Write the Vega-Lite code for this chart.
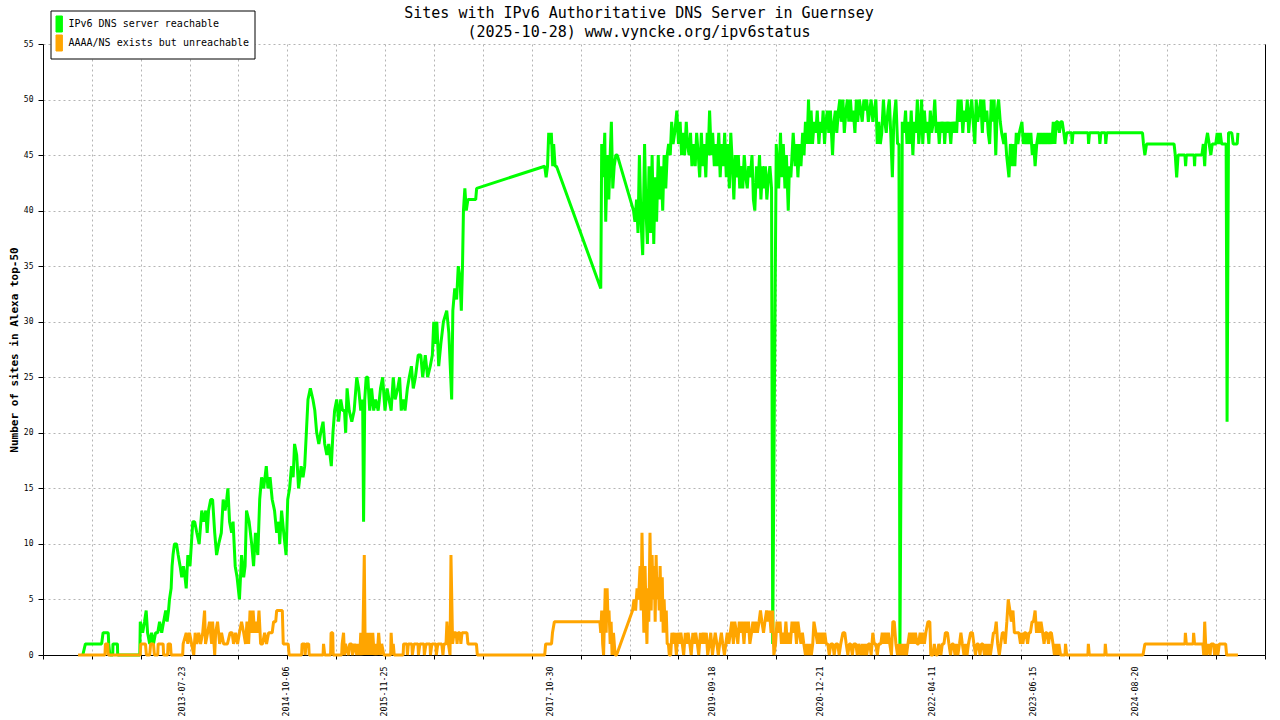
{
  "$schema": "https://vega.github.io/schema/vega-lite/v6.json",
  "width": 1222,
  "height": 611,
  "autosize": {"type": "none"},
  "padding": {"left": 43, "top": 44, "right": 15, "bottom": 65},
  "background": "white",
  "title": {
    "text": ["Sites with IPv6 Authoritative DNS Server in Guernsey", "(2025-10-28) www.vyncke.org/ipv6status"],
    "font": "DejaVu Sans Mono",
    "fontSize": 15,
    "fontWeight": "normal",
    "lineHeight": 19,
    "color": "black",
    "anchor": "middle",
    "dx": -15,
    "offset": -30
  },
  "config": {
    "view": {"stroke": null},
    "axis": {
      "labelFont": "DejaVu Sans Mono",
      "labelFontSize": 8,
      "labelColor": "black",
      "titleFont": "DejaVu Sans Mono",
      "titleColor": "black",
      "domainColor": "black",
      "domainWidth": 1,
      "tickColor": "black",
      "gridColor": "#b4b4b4",
      "gridDash": [2, 3],
      "gridWidth": 1
    }
  },
  "datasets": {
    "green": [
      {"d":"2012-05-25","v":0},{"d":"2012-06-05","v":1},{"d":"2012-08-13","v":1},{"d":"2012-08-19","v":2},{"d":"2012-09-10","v":2},{"d":"2012-09-12","v":1},{"d":"2012-09-17","v":0},{"d":"2012-09-29","v":0},{"d":"2012-09-30","v":1},{"d":"2012-10-19","v":1},{"d":"2012-10-20","v":0},{"d":"2013-01-22","v":0},
      {"d":"2013-01-24","v":3},{"d":"2013-02-03","v":2},{"d":"2013-02-11","v":3},{"d":"2013-02-18","v":4},{"d":"2013-02-24","v":2},{"d":"2013-03-05","v":1},{"d":"2013-03-13","v":2},{"d":"2013-03-21","v":1},{"d":"2013-03-30","v":2},{"d":"2013-04-08","v":2},{"d":"2013-04-16","v":3},{"d":"2013-04-25","v":2},{"d":"2013-05-03","v":3},{"d":"2013-05-12","v":4},{"d":"2013-05-18","v":3},{"d":"2013-05-24","v":4},{"d":"2013-05-28","v":5},{"d":"2013-06-04","v":6},{"d":"2013-06-08","v":8},{"d":"2013-06-12","v":9},{"d":"2013-06-18","v":10},{"d":"2013-06-27","v":10},{"d":"2013-07-04","v":9},{"d":"2013-07-12","v":8},{"d":"2013-07-19","v":7},{"d":"2013-07-26","v":8},{"d":"2013-08-02","v":7},{"d":"2013-08-07","v":6},{"d":"2013-08-14","v":9},{"d":"2013-08-23","v":8},{"d":"2013-09-04","v":12},{"d":"2013-09-12","v":12},{"d":"2013-09-21","v":11},{"d":"2013-10-01","v":10},{"d":"2013-10-12","v":13},{"d":"2013-10-20","v":12},{"d":"2013-10-29","v":13},{"d":"2013-11-04","v":11},{"d":"2013-11-10","v":13},{"d":"2013-11-19","v":14},{"d":"2013-11-27","v":14},{"d":"2013-12-06","v":11},{"d":"2013-12-14","v":9},{"d":"2013-12-23","v":10},
      {"d":"2014-01-03","v":11},{"d":"2014-01-11","v":14},{"d":"2014-01-19","v":13},{"d":"2014-01-26","v":14},{"d":"2014-01-31","v":15},{"d":"2014-02-07","v":12},{"d":"2014-02-16","v":11},{"d":"2014-02-22","v":12},{"d":"2014-03-03","v":8},{"d":"2014-03-11","v":7},{"d":"2014-03-21","v":5},{"d":"2014-03-30","v":9},{"d":"2014-04-08","v":7},{"d":"2014-04-14","v":8},{"d":"2014-04-20","v":13},{"d":"2014-05-01","v":12},{"d":"2014-05-12","v":10},{"d":"2014-05-20","v":8},{"d":"2014-05-28","v":11},{"d":"2014-06-07","v":9},{"d":"2014-06-15","v":14},{"d":"2014-06-23","v":16},{"d":"2014-07-02","v":15},{"d":"2014-07-13","v":17},{"d":"2014-07-20","v":15},{"d":"2014-07-29","v":16},{"d":"2014-08-07","v":14},{"d":"2014-08-17","v":13},{"d":"2014-08-26","v":11},{"d":"2014-09-04","v":12},{"d":"2014-09-08","v":10},{"d":"2014-09-16","v":13},{"d":"2014-09-25","v":11},{"d":"2014-10-05","v":9},{"d":"2014-10-12","v":14},{"d":"2014-10-20","v":15},{"d":"2014-10-28","v":17},{"d":"2014-11-04","v":16},{"d":"2014-11-10","v":19},{"d":"2014-11-19","v":18},{"d":"2014-11-27","v":15},{"d":"2014-12-08","v":17},{"d":"2014-12-16","v":16},{"d":"2014-12-23","v":17},{"d":"2014-12-30","v":20},
      {"d":"2015-01-06","v":23},{"d":"2015-01-16","v":24},{"d":"2015-01-27","v":23},{"d":"2015-02-04","v":22},{"d":"2015-02-12","v":20},{"d":"2015-02-21","v":19},{"d":"2015-03-01","v":20},{"d":"2015-03-11","v":21},{"d":"2015-03-18","v":19},{"d":"2015-03-27","v":18},{"d":"2015-04-04","v":19},{"d":"2015-04-15","v":17},{"d":"2015-04-22","v":20},{"d":"2015-04-29","v":22},{"d":"2015-05-08","v":23},{"d":"2015-05-16","v":21},{"d":"2015-05-25","v":23},{"d":"2015-06-02","v":22},{"d":"2015-06-10","v":22},{"d":"2015-06-15","v":20},{"d":"2015-06-21","v":24},{"d":"2015-06-30","v":22},{"d":"2015-07-11","v":21},{"d":"2015-07-21","v":22},{"d":"2015-08-01","v":25},{"d":"2015-08-09","v":24},{"d":"2015-08-18","v":22},{"d":"2015-08-26","v":23},{"d":"2015-08-30","v":12},{"d":"2015-09-04","v":23},{"d":"2015-09-10","v":25},{"d":"2015-09-17","v":25},{"d":"2015-09-25","v":22},{"d":"2015-10-03","v":24},{"d":"2015-10-12","v":22},{"d":"2015-10-20","v":23},{"d":"2015-10-31","v":22},{"d":"2015-11-10","v":24},{"d":"2015-11-19","v":25},{"d":"2015-11-29","v":22},{"d":"2015-12-08","v":24},{"d":"2015-12-16","v":23},{"d":"2015-12-25","v":22},
      {"d":"2016-01-03","v":25},{"d":"2016-01-11","v":23},{"d":"2016-01-22","v":24},{"d":"2016-01-30","v":25},{"d":"2016-02-06","v":22},{"d":"2016-02-14","v":23},{"d":"2016-02-22","v":22},{"d":"2016-03-03","v":24},{"d":"2016-03-11","v":25},{"d":"2016-03-20","v":26},{"d":"2016-03-28","v":24},{"d":"2016-04-06","v":25},{"d":"2016-04-18","v":27},{"d":"2016-04-29","v":27},{"d":"2016-05-07","v":25},{"d":"2016-05-18","v":27},{"d":"2016-05-28","v":25},{"d":"2016-06-08","v":26},{"d":"2016-06-17","v":27},{"d":"2016-06-23","v":30},{"d":"2016-06-29","v":28},{"d":"2016-07-06","v":30},{"d":"2016-07-14","v":26},{"d":"2016-07-23","v":28},{"d":"2016-08-03","v":30},{"d":"2016-08-17","v":31},{"d":"2016-08-26","v":29},{"d":"2016-09-07","v":23},{"d":"2016-09-12","v":31},{"d":"2016-09-20","v":33},{"d":"2016-09-28","v":32},{"d":"2016-10-05","v":35},{"d":"2016-10-12","v":34},{"d":"2016-10-18","v":31},{"d":"2016-10-23","v":35},{"d":"2016-10-27","v":40},{"d":"2016-11-02","v":42},{"d":"2016-11-08","v":40},{"d":"2016-11-15","v":41},{"d":"2016-12-18","v":41},{"d":"2016-12-22","v":42},
      {"d":"2017-10-07","v":44},{"d":"2017-10-13","v":43},{"d":"2017-10-19","v":44},{"d":"2017-10-24","v":47},{"d":"2017-10-30","v":46},{"d":"2017-11-04","v":47},{"d":"2017-11-10","v":44},{"d":"2017-11-14","v":46},{"d":"2017-11-20","v":44},{"d":"2017-11-26","v":44},
      {"d":"2018-06-02","v":33},{"d":"2018-06-06","v":46},{"d":"2018-06-12","v":43},{"d":"2018-06-19","v":47},{"d":"2018-06-23","v":39},{"d":"2018-06-30","v":45},{"d":"2018-07-06","v":41},{"d":"2018-07-12","v":45},{"d":"2018-07-17","v":48},{"d":"2018-07-23","v":42},{"d":"2018-07-29","v":44},{"d":"2018-08-05","v":45},{"d":"2018-08-11","v":45},{"d":"2018-10-19","v":40},{"d":"2018-10-25","v":39},{"d":"2018-11-01","v":41},{"d":"2018-11-07","v":38},{"d":"2018-11-13","v":45},{"d":"2018-11-20","v":39},{"d":"2018-11-27","v":36},{"d":"2018-12-05","v":46},{"d":"2018-12-11","v":40},{"d":"2018-12-17","v":37},{"d":"2018-12-24","v":44},{"d":"2018-12-31","v":38},
      {"d":"2019-01-06","v":45},{"d":"2019-01-13","v":37},{"d":"2019-01-19","v":43},{"d":"2019-01-25","v":39},{"d":"2019-02-01","v":45},{"d":"2019-02-07","v":41},{"d":"2019-02-13","v":44},{"d":"2019-02-20","v":40},{"d":"2019-02-26","v":45},{"d":"2019-03-05","v":42},{"d":"2019-03-11","v":45},{"d":"2019-03-17","v":46},{"d":"2019-03-24","v":45},{"d":"2019-03-30","v":48},{"d":"2019-04-05","v":46},{"d":"2019-04-12","v":47},{"d":"2019-04-21","v":49},{"d":"2019-04-28","v":46},{"d":"2019-05-05","v":48},{"d":"2019-05-11","v":45},{"d":"2019-05-17","v":47},{"d":"2019-05-24","v":45},{"d":"2019-05-31","v":48},{"d":"2019-06-05","v":46},{"d":"2019-06-12","v":45},{"d":"2019-06-18","v":47},{"d":"2019-06-24","v":44},{"d":"2019-07-02","v":46},{"d":"2019-07-08","v":44},{"d":"2019-07-14","v":47},{"d":"2019-07-21","v":45},{"d":"2019-07-27","v":43},{"d":"2019-08-03","v":47},{"d":"2019-08-09","v":44},{"d":"2019-08-15","v":46},{"d":"2019-08-22","v":43},{"d":"2019-08-28","v":47},{"d":"2019-09-01","v":45},{"d":"2019-09-07","v":49},{"d":"2019-09-14","v":45},{"d":"2019-09-20","v":47},{"d":"2019-09-27","v":44},{"d":"2019-10-03","v":46},{"d":"2019-10-09","v":44},{"d":"2019-10-16","v":47},{"d":"2019-10-22","v":43},{"d":"2019-10-28","v":46},{"d":"2019-11-04","v":44},{"d":"2019-11-10","v":47},{"d":"2019-11-17","v":43},{"d":"2019-11-23","v":46},{"d":"2019-11-30","v":42},{"d":"2019-12-06","v":47},{"d":"2019-12-13","v":44},{"d":"2019-12-19","v":41},{"d":"2019-12-25","v":45},
      {"d":"2020-01-01","v":43},{"d":"2020-01-07","v":45},{"d":"2020-01-13","v":42},{"d":"2020-01-20","v":44},{"d":"2020-01-26","v":42},{"d":"2020-02-01","v":45},{"d":"2020-02-08","v":43},{"d":"2020-02-14","v":42},{"d":"2020-02-20","v":44},{"d":"2020-02-27","v":43},{"d":"2020-03-05","v":45},{"d":"2020-03-11","v":41},{"d":"2020-03-17","v":40},{"d":"2020-03-24","v":44},{"d":"2020-03-30","v":42},{"d":"2020-04-06","v":45},{"d":"2020-04-12","v":41},{"d":"2020-04-19","v":44},{"d":"2020-04-25","v":42},{"d":"2020-05-01","v":44},{"d":"2020-05-07","v":41},{"d":"2020-05-14","v":43},{"d":"2020-05-20","v":44},{"d":"2020-05-27","v":42},{"d":"2020-06-01","v":1},{"d":"2020-06-08","v":23},{"d":"2020-06-16","v":46},{"d":"2020-06-26","v":42},{"d":"2020-07-04","v":47},{"d":"2020-07-10","v":43},{"d":"2020-07-16","v":46},{"d":"2020-07-23","v":42},{"d":"2020-07-29","v":45},{"d":"2020-08-06","v":40},{"d":"2020-08-11","v":44},{"d":"2020-08-17","v":43},{"d":"2020-08-27","v":47},{"d":"2020-09-04","v":44},{"d":"2020-09-10","v":46},{"d":"2020-09-16","v":43},{"d":"2020-09-23","v":46},{"d":"2020-09-29","v":44},{"d":"2020-10-06","v":47},{"d":"2020-10-12","v":45},{"d":"2020-10-18","v":48},{"d":"2020-10-25","v":46},{"d":"2020-10-31","v":50},{"d":"2020-11-05","v":46},{"d":"2020-11-11","v":49},{"d":"2020-11-17","v":46},{"d":"2020-11-24","v":48},{"d":"2020-12-01","v":47},{"d":"2020-12-07","v":49},{"d":"2020-12-14","v":46},{"d":"2020-12-20","v":48},{"d":"2020-12-27","v":47},
      {"d":"2021-01-01","v":49},{"d":"2021-01-07","v":46},{"d":"2021-01-13","v":48},{"d":"2021-01-19","v":49},{"d":"2021-01-25","v":47},{"d":"2021-02-01","v":49},{"d":"2021-02-10","v":45},{"d":"2021-02-16","v":48},{"d":"2021-02-22","v":49},{"d":"2021-02-28","v":47},{"d":"2021-03-07","v":49},{"d":"2021-03-13","v":50},{"d":"2021-03-19","v":48},{"d":"2021-03-26","v":50},{"d":"2021-04-01","v":47},{"d":"2021-04-08","v":49},{"d":"2021-04-14","v":50},{"d":"2021-04-20","v":48},{"d":"2021-04-27","v":50},{"d":"2021-05-03","v":48},{"d":"2021-05-09","v":49},{"d":"2021-05-16","v":47},{"d":"2021-05-22","v":50},{"d":"2021-05-28","v":48},{"d":"2021-06-04","v":50},{"d":"2021-06-10","v":49},{"d":"2021-06-16","v":48},{"d":"2021-06-23","v":50},{"d":"2021-06-29","v":49},{"d":"2021-07-05","v":50},{"d":"2021-07-12","v":48},{"d":"2021-07-18","v":49},{"d":"2021-07-24","v":50},{"d":"2021-07-31","v":48},{"d":"2021-08-06","v":49},{"d":"2021-08-13","v":50},{"d":"2021-08-19","v":46},{"d":"2021-08-25","v":48},{"d":"2021-09-01","v":46},{"d":"2021-09-07","v":47},{"d":"2021-09-14","v":50},{"d":"2021-09-20","v":48},{"d":"2021-09-26","v":47},{"d":"2021-10-03","v":49},{"d":"2021-10-09","v":50},{"d":"2021-10-15","v":47},{"d":"2021-10-22","v":43},{"d":"2021-10-28","v":48},{"d":"2021-11-06","v":50},{"d":"2021-11-13","v":46},{"d":"2021-11-19","v":46},{"d":"2021-11-23","v":0},{"d":"2021-11-30","v":25},{"d":"2021-12-03","v":48},{"d":"2021-12-10","v":47},{"d":"2021-12-17","v":49},{"d":"2021-12-23","v":46},{"d":"2021-12-29","v":48},
      {"d":"2022-01-04","v":46},{"d":"2022-01-10","v":49},{"d":"2022-01-17","v":45},{"d":"2022-01-23","v":48},{"d":"2022-01-30","v":47},{"d":"2022-02-05","v":50},{"d":"2022-02-11","v":46},{"d":"2022-02-18","v":48},{"d":"2022-02-23","v":50},{"d":"2022-02-28","v":46},{"d":"2022-03-07","v":49},{"d":"2022-03-13","v":47},{"d":"2022-03-19","v":48},{"d":"2022-03-26","v":46},{"d":"2022-04-01","v":49},{"d":"2022-04-07","v":47},{"d":"2022-04-14","v":48},{"d":"2022-04-20","v":50},{"d":"2022-04-26","v":47},{"d":"2022-05-03","v":48},{"d":"2022-05-09","v":46},{"d":"2022-05-15","v":48},{"d":"2022-05-22","v":47},{"d":"2022-05-28","v":48},{"d":"2022-06-01","v":46},{"d":"2022-06-07","v":48},{"d":"2022-06-14","v":47},{"d":"2022-06-20","v":48},{"d":"2022-06-27","v":46},{"d":"2022-07-03","v":48},{"d":"2022-07-09","v":47},{"d":"2022-07-16","v":48},{"d":"2022-07-22","v":47},{"d":"2022-07-28","v":50},{"d":"2022-08-04","v":48},{"d":"2022-08-10","v":50},{"d":"2022-08-17","v":47},{"d":"2022-08-23","v":49},{"d":"2022-08-29","v":48},{"d":"2022-09-05","v":50},{"d":"2022-09-11","v":47},{"d":"2022-09-18","v":49},{"d":"2022-09-24","v":50},{"d":"2022-09-30","v":48},{"d":"2022-10-07","v":46},{"d":"2022-10-13","v":50},{"d":"2022-10-19","v":48},{"d":"2022-10-26","v":49},{"d":"2022-11-01","v":50},{"d":"2022-11-08","v":47},{"d":"2022-11-14","v":50},{"d":"2022-11-20","v":48},{"d":"2022-11-27","v":49},{"d":"2022-12-03","v":47},{"d":"2022-12-09","v":46},{"d":"2022-12-16","v":50},{"d":"2022-12-22","v":48},{"d":"2022-12-28","v":50},
      {"d":"2023-01-04","v":45},{"d":"2023-01-10","v":49},{"d":"2023-01-16","v":50},{"d":"2023-01-23","v":48},{"d":"2023-01-29","v":47},{"d":"2023-02-07","v":46},{"d":"2023-02-13","v":47},{"d":"2023-02-19","v":45},{"d":"2023-03-01","v":43},{"d":"2023-03-07","v":46},{"d":"2023-03-14","v":44},{"d":"2023-03-20","v":46},{"d":"2023-03-26","v":44},{"d":"2023-04-01","v":47},{"d":"2023-04-08","v":46},{"d":"2023-04-14","v":47},{"d":"2023-04-25","v":48},{"d":"2023-05-01","v":46},{"d":"2023-05-07","v":47},{"d":"2023-05-14","v":46},{"d":"2023-05-20","v":47},{"d":"2023-05-26","v":46},{"d":"2023-06-02","v":47},{"d":"2023-06-08","v":45},{"d":"2023-06-14","v":46},{"d":"2023-06-20","v":44},{"d":"2023-06-27","v":46},{"d":"2023-07-04","v":47},{"d":"2023-07-10","v":46},{"d":"2023-07-16","v":47},{"d":"2023-07-23","v":46},{"d":"2023-07-29","v":47},{"d":"2023-08-04","v":46},{"d":"2023-08-11","v":47},{"d":"2023-08-17","v":46},{"d":"2023-08-24","v":47},{"d":"2023-08-30","v":46},{"d":"2023-09-05","v":48},{"d":"2023-09-12","v":46},{"d":"2023-09-18","v":48},{"d":"2023-09-24","v":48},{"d":"2023-10-01","v":47},{"d":"2023-10-07","v":48},{"d":"2023-10-13","v":48},{"d":"2023-10-20","v":47},{"d":"2023-10-26","v":46},{"d":"2023-11-01","v":47},{"d":"2023-11-22","v":47},{"d":"2023-11-24","v":46},{"d":"2023-11-28","v":47},
      {"d":"2024-01-31","v":47},{"d":"2024-02-02","v":46},{"d":"2024-02-06","v":47},{"d":"2024-03-18","v":47},{"d":"2024-03-21","v":46},{"d":"2024-03-25","v":47},{"d":"2024-04-13","v":47},{"d":"2024-04-15","v":46},{"d":"2024-04-19","v":47},{"d":"2024-09-18","v":47},{"d":"2024-09-22","v":46},{"d":"2024-09-28","v":45},{"d":"2024-10-05","v":46},
      {"d":"2025-01-30","v":46},{"d":"2025-02-04","v":45},{"d":"2025-02-10","v":43},{"d":"2025-02-16","v":45},{"d":"2025-03-17","v":45},{"d":"2025-03-20","v":44},{"d":"2025-03-23","v":45},{"d":"2025-04-25","v":45},{"d":"2025-04-27","v":44},{"d":"2025-04-29","v":45},{"d":"2025-05-28","v":45},{"d":"2025-06-03","v":46},{"d":"2025-06-09","v":44},{"d":"2025-06-13","v":46},{"d":"2025-06-21","v":47},{"d":"2025-06-28","v":46},{"d":"2025-07-05","v":45},{"d":"2025-07-11","v":46},{"d":"2025-07-26","v":46},{"d":"2025-08-01","v":47},{"d":"2025-08-08","v":46},{"d":"2025-08-14","v":47},{"d":"2025-08-20","v":46},{"d":"2025-09-08","v":46},{"d":"2025-09-10","v":34},{"d":"2025-09-12","v":21},{"d":"2025-09-18","v":47},{"d":"2025-10-02","v":47},{"d":"2025-10-08","v":46},{"d":"2025-10-25","v":46},{"d":"2025-10-28","v":47}
    ],
    "orange": [
      {"d":"2012-05-05","v":0},{"d":"2012-08-27","v":0},{"d":"2012-08-29","v":1},{"d":"2012-09-08","v":1},{"d":"2012-09-10","v":0},
      {"d":"2013-01-24","v":0},{"d":"2013-01-26","v":1},{"d":"2013-02-15","v":1},{"d":"2013-02-19","v":0},{"d":"2013-03-05","v":0},{"d":"2013-03-09","v":1},{"d":"2013-03-21","v":1},{"d":"2013-03-25","v":0},{"d":"2013-04-08","v":0},{"d":"2013-04-10","v":1},{"d":"2013-05-01","v":1},{"d":"2013-05-03","v":0},{"d":"2013-05-20","v":0},{"d":"2013-05-22","v":1},{"d":"2013-06-01","v":1},{"d":"2013-06-04","v":0},{"d":"2013-07-23","v":0},{"d":"2013-07-25","v":1},{"d":"2013-08-07","v":2},{"d":"2013-08-14","v":1},{"d":"2013-08-21","v":2},{"d":"2013-08-30","v":1},{"d":"2013-09-08","v":0},{"d":"2013-09-14","v":2},{"d":"2013-09-21","v":1},{"d":"2013-09-29","v":2},{"d":"2013-10-07","v":1},{"d":"2013-10-16","v":2},{"d":"2013-10-24","v":4},{"d":"2013-10-28","v":1},{"d":"2013-11-06","v":2},{"d":"2013-11-14","v":3},{"d":"2013-11-23","v":1},{"d":"2013-11-27","v":3},{"d":"2013-12-06","v":0},{"d":"2013-12-10","v":2},{"d":"2013-12-18","v":3},{"d":"2013-12-27","v":1},
      {"d":"2014-01-04","v":2},{"d":"2014-01-13","v":1},{"d":"2014-01-21","v":1},{"d":"2014-01-29","v":1},{"d":"2014-02-09","v":2},{"d":"2014-02-18","v":2},{"d":"2014-02-24","v":1},{"d":"2014-03-05","v":2},{"d":"2014-03-13","v":1},{"d":"2014-03-21","v":2},{"d":"2014-03-30","v":3},{"d":"2014-04-08","v":2},{"d":"2014-04-16","v":1},{"d":"2014-04-22","v":3},{"d":"2014-04-29","v":1},{"d":"2014-05-05","v":4},{"d":"2014-05-11","v":2},{"d":"2014-05-18","v":4},{"d":"2014-05-24","v":2},{"d":"2014-05-31","v":3},{"d":"2014-06-06","v":2},{"d":"2014-06-12","v":4},{"d":"2014-06-19","v":1},{"d":"2014-06-27","v":1},{"d":"2014-07-06","v":2},{"d":"2014-07-14","v":1},{"d":"2014-07-23","v":2},{"d":"2014-07-31","v":2},{"d":"2014-08-07","v":2},{"d":"2014-08-13","v":3},{"d":"2014-08-22","v":3},{"d":"2014-08-26","v":4},{"d":"2014-09-19","v":4},{"d":"2014-09-23","v":1},{"d":"2014-10-08","v":1},{"d":"2014-10-14","v":1},{"d":"2014-10-18","v":0},{"d":"2014-12-10","v":0},{"d":"2014-12-12","v":1},{"d":"2014-12-23","v":1},{"d":"2014-12-25","v":0},{"d":"2014-12-29","v":1},
      {"d":"2015-01-09","v":1},{"d":"2015-01-11","v":0},{"d":"2015-03-11","v":0},{"d":"2015-03-13","v":1},{"d":"2015-03-18","v":0},{"d":"2015-04-12","v":0},{"d":"2015-04-14","v":2},{"d":"2015-04-21","v":2},{"d":"2015-04-23","v":0},{"d":"2015-05-29","v":0},{"d":"2015-05-31","v":1},{"d":"2015-06-06","v":2},{"d":"2015-06-10","v":0},{"d":"2015-06-14","v":1},{"d":"2015-06-27","v":0},{"d":"2015-07-02","v":1},{"d":"2015-07-10","v":1},{"d":"2015-07-14","v":0},{"d":"2015-07-23","v":1},{"d":"2015-08-01","v":0},{"d":"2015-08-05","v":1},{"d":"2015-08-14","v":0},{"d":"2015-08-18","v":2},{"d":"2015-08-26","v":0},{"d":"2015-09-02","v":9},{"d":"2015-09-06","v":0},{"d":"2015-09-12","v":2},{"d":"2015-09-19","v":0},{"d":"2015-09-25","v":2},{"d":"2015-10-01","v":0},{"d":"2015-10-08","v":2},{"d":"2015-10-14","v":0},{"d":"2015-10-20","v":1},{"d":"2015-10-27","v":0},{"d":"2015-11-02","v":2},{"d":"2015-11-09","v":0},{"d":"2015-11-15","v":1},{"d":"2015-11-24","v":0},{"d":"2015-12-23","v":0},{"d":"2015-12-25","v":2},{"d":"2015-12-30","v":0},
      {"d":"2016-01-03","v":1},{"d":"2016-01-07","v":0},{"d":"2016-02-14","v":0},{"d":"2016-02-16","v":1},{"d":"2016-03-01","v":1},{"d":"2016-03-03","v":0},{"d":"2016-03-07","v":1},{"d":"2016-03-22","v":1},{"d":"2016-03-24","v":0},{"d":"2016-03-31","v":1},{"d":"2016-04-17","v":1},{"d":"2016-04-19","v":0},{"d":"2016-04-25","v":1},{"d":"2016-05-12","v":1},{"d":"2016-05-14","v":0},{"d":"2016-05-21","v":1},{"d":"2016-06-07","v":1},{"d":"2016-06-09","v":0},{"d":"2016-06-15","v":1},{"d":"2016-07-02","v":1},{"d":"2016-07-04","v":0},{"d":"2016-07-10","v":1},{"d":"2016-07-27","v":1},{"d":"2016-08-01","v":0},{"d":"2016-08-05","v":1},{"d":"2016-08-14","v":1},{"d":"2016-08-18","v":3},{"d":"2016-08-24","v":1},{"d":"2016-08-31","v":0},{"d":"2016-09-04","v":9},{"d":"2016-09-11","v":1},{"d":"2016-09-17","v":2},{"d":"2016-09-26","v":2},{"d":"2016-09-30","v":1},{"d":"2016-10-04","v":2},{"d":"2016-10-12","v":2},{"d":"2016-10-16","v":1},{"d":"2016-10-21","v":2},{"d":"2016-11-11","v":2},{"d":"2016-11-15","v":1},{"d":"2016-12-21","v":1},{"d":"2016-12-25","v":0},
      {"d":"2017-10-07","v":0},{"d":"2017-10-11","v":1},{"d":"2017-11-05","v":1},{"d":"2017-11-09","v":2},{"d":"2017-11-17","v":3},
      {"d":"2018-05-29","v":3},{"d":"2018-06-02","v":2},{"d":"2018-06-06","v":4},{"d":"2018-06-10","v":1},{"d":"2018-06-14","v":0},{"d":"2018-06-21","v":6},{"d":"2018-06-25","v":2},{"d":"2018-06-29","v":6},{"d":"2018-07-03","v":3},{"d":"2018-07-07","v":4},{"d":"2018-07-12","v":1},{"d":"2018-07-16","v":3},{"d":"2018-07-20","v":0},{"d":"2018-07-26","v":2},{"d":"2018-08-02","v":0},{"d":"2018-08-08","v":0},{"d":"2018-10-15","v":4},{"d":"2018-10-21","v":5},{"d":"2018-10-28","v":4},{"d":"2018-11-03","v":6},{"d":"2018-11-09","v":5},{"d":"2018-11-16","v":8},{"d":"2018-11-20","v":4},{"d":"2018-11-24","v":11},{"d":"2018-11-28","v":6},{"d":"2018-12-02","v":2},{"d":"2018-12-07","v":8},{"d":"2018-12-11","v":4},{"d":"2018-12-15","v":1},{"d":"2018-12-19","v":6},{"d":"2018-12-23","v":3},{"d":"2018-12-28","v":11},
      {"d":"2019-01-02","v":4},{"d":"2019-01-06","v":9},{"d":"2019-01-10","v":5},{"d":"2019-01-15","v":8},{"d":"2019-01-19","v":3},{"d":"2019-01-23","v":9},{"d":"2019-01-27","v":5},{"d":"2019-02-01","v":7},{"d":"2019-02-05","v":4},{"d":"2019-02-09","v":8},{"d":"2019-02-14","v":3},{"d":"2019-02-18","v":7},{"d":"2019-02-22","v":2},{"d":"2019-02-26","v":5},{"d":"2019-03-03","v":2},{"d":"2019-03-07","v":4},{"d":"2019-03-11","v":1},{"d":"2019-03-16","v":1},{"d":"2019-03-20","v":0},{"d":"2019-03-26","v":0},{"d":"2019-03-31","v":2},{"d":"2019-04-06","v":1},{"d":"2019-04-12","v":2},{"d":"2019-04-19","v":0},{"d":"2019-04-25","v":2},{"d":"2019-05-01","v":1},{"d":"2019-05-08","v":2},{"d":"2019-05-14","v":1},{"d":"2019-05-20","v":0},{"d":"2019-05-27","v":2},{"d":"2019-06-02","v":1},{"d":"2019-06-08","v":2},{"d":"2019-06-15","v":1},{"d":"2019-06-21","v":0},{"d":"2019-06-28","v":2},{"d":"2019-07-04","v":1},{"d":"2019-07-10","v":2},{"d":"2019-07-17","v":1},{"d":"2019-07-23","v":0},{"d":"2019-07-30","v":2},{"d":"2019-08-05","v":1},{"d":"2019-08-11","v":2},{"d":"2019-08-18","v":1},{"d":"2019-08-24","v":2},{"d":"2019-08-30","v":0},{"d":"2019-09-06","v":1},{"d":"2019-09-12","v":2},{"d":"2019-09-19","v":0},{"d":"2019-09-25","v":1},{"d":"2019-10-01","v":2},{"d":"2019-10-08","v":1},{"d":"2019-10-14","v":0},{"d":"2019-10-20","v":1},{"d":"2019-10-27","v":2},{"d":"2019-11-02","v":1},{"d":"2019-11-09","v":0},{"d":"2019-11-15","v":1},{"d":"2019-11-21","v":2},{"d":"2019-11-28","v":1},{"d":"2019-12-04","v":2},{"d":"2019-12-10","v":3},{"d":"2019-12-17","v":1},{"d":"2019-12-23","v":3},{"d":"2019-12-30","v":2},
      {"d":"2020-01-05","v":1},{"d":"2020-01-11","v":3},{"d":"2020-01-18","v":2},{"d":"2020-01-24","v":3},{"d":"2020-01-31","v":1},{"d":"2020-02-06","v":3},{"d":"2020-02-12","v":2},{"d":"2020-02-19","v":3},{"d":"2020-02-25","v":1},{"d":"2020-03-03","v":2},{"d":"2020-03-09","v":3},{"d":"2020-03-16","v":2},{"d":"2020-03-22","v":3},{"d":"2020-03-28","v":2},{"d":"2020-04-04","v":3},{"d":"2020-04-10","v":4},{"d":"2020-04-16","v":3},{"d":"2020-04-23","v":2},{"d":"2020-04-29","v":3},{"d":"2020-05-06","v":4},{"d":"2020-05-12","v":3},{"d":"2020-05-18","v":4},{"d":"2020-05-25","v":2},{"d":"2020-05-31","v":4},{"d":"2020-06-06","v":0},{"d":"2020-06-13","v":1},{"d":"2020-06-19","v":3},{"d":"2020-06-25","v":2},{"d":"2020-07-02","v":3},{"d":"2020-07-08","v":1},{"d":"2020-07-14","v":2},{"d":"2020-07-21","v":1},{"d":"2020-07-27","v":3},{"d":"2020-08-02","v":1},{"d":"2020-08-09","v":2},{"d":"2020-08-15","v":1},{"d":"2020-08-22","v":3},{"d":"2020-08-28","v":2},{"d":"2020-09-03","v":3},{"d":"2020-09-10","v":1},{"d":"2020-09-16","v":3},{"d":"2020-09-22","v":2},{"d":"2020-09-29","v":1},{"d":"2020-10-05","v":2},{"d":"2020-10-11","v":1},{"d":"2020-10-18","v":0},{"d":"2020-10-24","v":1},{"d":"2020-10-31","v":0},{"d":"2020-11-06","v":1},{"d":"2020-11-12","v":0},{"d":"2020-11-18","v":1},{"d":"2020-11-23","v":3},{"d":"2020-12-01","v":2},{"d":"2020-12-08","v":1},{"d":"2020-12-14","v":2},{"d":"2020-12-20","v":1},{"d":"2020-12-27","v":2},
      {"d":"2021-01-02","v":1},{"d":"2021-01-08","v":2},{"d":"2021-01-14","v":1},{"d":"2021-01-21","v":1},{"d":"2021-01-27","v":0},{"d":"2021-02-03","v":1},{"d":"2021-02-11","v":1},{"d":"2021-02-17","v":0},{"d":"2021-02-24","v":1},{"d":"2021-03-04","v":1},{"d":"2021-03-10","v":0},{"d":"2021-03-17","v":1},{"d":"2021-03-26","v":2},{"d":"2021-04-03","v":2},{"d":"2021-04-09","v":1},{"d":"2021-04-16","v":0},{"d":"2021-04-22","v":1},{"d":"2021-04-28","v":1},{"d":"2021-05-05","v":0},{"d":"2021-05-11","v":1},{"d":"2021-05-20","v":1},{"d":"2021-05-26","v":0},{"d":"2021-06-01","v":1},{"d":"2021-06-10","v":0},{"d":"2021-06-16","v":1},{"d":"2021-06-23","v":0},{"d":"2021-06-29","v":1},{"d":"2021-07-05","v":0},{"d":"2021-07-12","v":1},{"d":"2021-07-18","v":1},{"d":"2021-07-24","v":0},{"d":"2021-07-31","v":2},{"d":"2021-08-06","v":1},{"d":"2021-08-13","v":1},{"d":"2021-08-19","v":0},{"d":"2021-08-25","v":1},{"d":"2021-09-03","v":1},{"d":"2021-09-09","v":2},{"d":"2021-09-16","v":1},{"d":"2021-09-22","v":2},{"d":"2021-09-28","v":1},{"d":"2021-10-05","v":2},{"d":"2021-10-11","v":1},{"d":"2021-10-18","v":0},{"d":"2021-10-24","v":3},{"d":"2021-10-30","v":3},{"d":"2021-11-06","v":1},{"d":"2021-11-13","v":0},{"d":"2021-11-19","v":1},{"d":"2021-11-26","v":0},{"d":"2021-12-02","v":1},{"d":"2021-12-08","v":0},{"d":"2021-12-15","v":1},{"d":"2021-12-21","v":0},{"d":"2021-12-27","v":1},
      {"d":"2022-01-03","v":2},{"d":"2022-01-09","v":1},{"d":"2022-01-16","v":2},{"d":"2022-01-22","v":1},{"d":"2022-01-28","v":2},{"d":"2022-02-04","v":1},{"d":"2022-02-10","v":1},{"d":"2022-02-17","v":2},{"d":"2022-02-23","v":1},{"d":"2022-03-01","v":2},{"d":"2022-03-07","v":1},{"d":"2022-03-13","v":2},{"d":"2022-03-22","v":3},{"d":"2022-03-30","v":3},{"d":"2022-04-03","v":0},{"d":"2022-04-12","v":0},{"d":"2022-04-18","v":1},{"d":"2022-04-25","v":0},{"d":"2022-05-01","v":0},{"d":"2022-05-07","v":1},{"d":"2022-05-16","v":0},{"d":"2022-05-22","v":1},{"d":"2022-05-29","v":1},{"d":"2022-06-04","v":2},{"d":"2022-06-13","v":2},{"d":"2022-06-19","v":1},{"d":"2022-06-26","v":0},{"d":"2022-07-02","v":1},{"d":"2022-07-08","v":1},{"d":"2022-07-15","v":0},{"d":"2022-07-21","v":1},{"d":"2022-07-27","v":0},{"d":"2022-08-03","v":1},{"d":"2022-08-09","v":2},{"d":"2022-08-15","v":1},{"d":"2022-08-22","v":0},{"d":"2022-08-28","v":1},{"d":"2022-09-04","v":0},{"d":"2022-09-10","v":1},{"d":"2022-09-19","v":2},{"d":"2022-09-27","v":2},{"d":"2022-10-03","v":1},{"d":"2022-10-10","v":0},{"d":"2022-10-16","v":1},{"d":"2022-10-22","v":1},{"d":"2022-10-29","v":0},{"d":"2022-11-04","v":1},{"d":"2022-11-10","v":1},{"d":"2022-11-17","v":0},{"d":"2022-11-23","v":1},{"d":"2022-11-29","v":0},{"d":"2022-12-06","v":1},{"d":"2022-12-12","v":0},{"d":"2022-12-19","v":1},{"d":"2022-12-25","v":2},{"d":"2022-12-31","v":2},
      {"d":"2023-01-06","v":3},{"d":"2023-01-12","v":1},{"d":"2023-01-19","v":0},{"d":"2023-01-25","v":1},{"d":"2023-02-01","v":2},{"d":"2023-02-07","v":2},{"d":"2023-02-13","v":1},{"d":"2023-02-20","v":3},{"d":"2023-02-26","v":5},{"d":"2023-03-05","v":4},{"d":"2023-03-11","v":3},{"d":"2023-03-18","v":4},{"d":"2023-03-24","v":2},{"d":"2023-03-30","v":2},{"d":"2023-04-06","v":2},{"d":"2023-04-12","v":2},{"d":"2023-04-19","v":1},{"d":"2023-04-23","v":2},{"d":"2023-04-29","v":1},{"d":"2023-05-06","v":2},{"d":"2023-05-12","v":2},{"d":"2023-05-19","v":1},{"d":"2023-05-25","v":2},{"d":"2023-05-31","v":2},{"d":"2023-06-07","v":3},{"d":"2023-06-13","v":3},{"d":"2023-06-20","v":4},{"d":"2023-06-26","v":2},{"d":"2023-07-02","v":3},{"d":"2023-07-09","v":2},{"d":"2023-07-15","v":3},{"d":"2023-07-22","v":2},{"d":"2023-07-28","v":1},{"d":"2023-08-03","v":2},{"d":"2023-08-09","v":2},{"d":"2023-08-16","v":1},{"d":"2023-08-22","v":2},{"d":"2023-08-28","v":2},{"d":"2023-09-04","v":1},{"d":"2023-09-10","v":0},{"d":"2023-09-17","v":1},{"d":"2023-09-23","v":0},{"d":"2023-09-29","v":1},{"d":"2023-10-06","v":0},{"d":"2023-10-25","v":0},{"d":"2023-10-27","v":1},{"d":"2023-11-01","v":0},
      {"d":"2024-01-30","v":0},{"d":"2024-02-01","v":1},{"d":"2024-02-05","v":0},{"d":"2024-04-11","v":0},{"d":"2024-04-13","v":1},{"d":"2024-04-17","v":0},{"d":"2024-09-20","v":0},{"d":"2024-09-28","v":1},
      {"d":"2025-03-17","v":1},{"d":"2025-03-19","v":2},{"d":"2025-03-23","v":1},{"d":"2025-04-21","v":1},{"d":"2025-04-23","v":2},{"d":"2025-04-27","v":1},{"d":"2025-06-01","v":1},{"d":"2025-06-05","v":0},{"d":"2025-06-09","v":3},{"d":"2025-06-13","v":1},{"d":"2025-06-17","v":0},{"d":"2025-06-24","v":1},{"d":"2025-07-02","v":0},{"d":"2025-07-06","v":1},{"d":"2025-07-17","v":1},{"d":"2025-07-21","v":0},{"d":"2025-07-28","v":1},{"d":"2025-08-04","v":0},{"d":"2025-08-10","v":1},{"d":"2025-09-06","v":1},{"d":"2025-09-10","v":0},{"d":"2025-10-28","v":0}
    ]
  },
  "layer": [
    {
      "data": {"name": "green"},
      "mark": {"type": "line", "strokeWidth": 3, "strokeJoin": "bevel"},
      "encoding": {
        "x": {
          "field": "d",
          "type": "temporal",
          "scale": {
            "type": "utc",
            "domain": [
              {"year": 2011, "month": 12, "date": 8, "utc": true},
              {"year": 2026, "month": 2, "date": 20, "utc": true}
            ]
          },
          "axis": {
            "orient": "bottom",
            "title": null,
            "labels": false,
            "grid": true,
            "tickSize": 4,
            "values": [
              {"year": 2011, "month": 12, "date": 8, "utc": true},
              {"year": 2012, "month": 7, "date": 3, "utc": true},
              {"year": 2013, "month": 1, "date": 25, "utc": true},
              {"year": 2013, "month": 8, "date": 21, "utc": true},
              {"year": 2014, "month": 3, "date": 16, "utc": true},
              {"year": 2014, "month": 10, "date": 10, "utc": true},
              {"year": 2015, "month": 5, "date": 6, "utc": true},
              {"year": 2015, "month": 11, "date": 29, "utc": true},
              {"year": 2016, "month": 6, "date": 25, "utc": true},
              {"year": 2017, "month": 1, "date": 17, "utc": true},
              {"year": 2017, "month": 8, "date": 13, "utc": true},
              {"year": 2018, "month": 3, "date": 9, "utc": true},
              {"year": 2018, "month": 10, "date": 2, "utc": true},
              {"year": 2019, "month": 4, "date": 28, "utc": true},
              {"year": 2019, "month": 11, "date": 21, "utc": true},
              {"year": 2020, "month": 6, "date": 17, "utc": true},
              {"year": 2021, "month": 1, "date": 10, "utc": true},
              {"year": 2021, "month": 8, "date": 5, "utc": true},
              {"year": 2022, "month": 2, "date": 28, "utc": true},
              {"year": 2022, "month": 9, "date": 24, "utc": true},
              {"year": 2023, "month": 4, "date": 20, "utc": true},
              {"year": 2023, "month": 11, "date": 13, "utc": true},
              {"year": 2024, "month": 6, "date": 9, "utc": true},
              {"year": 2025, "month": 1, "date": 2, "utc": true},
              {"year": 2025, "month": 7, "date": 28, "utc": true},
              {"year": 2026, "month": 2, "date": 20, "utc": true}
            ]
          }
        },
        "y": {
          "field": "v",
          "type": "quantitative",
          "scale": {"domain": [0, 55], "nice": false, "zero": true},
          "axis": {
            "orient": "left",
            "title": "Number of sites in Alexa top-50",
            "titleFontSize": 11,
            "titleFontWeight": "bold",
            "titlePadding": 4,
            "values": [0, 5, 10, 15, 20, 25, 30, 35, 40, 45, 50, 55],
            "tickSize": 5,
            "labelPadding": 5,
            "grid": true
          }
        },
        "color": {
          "datum": "IPv6 DNS server reachable",
          "type": "nominal",
          "scale": {
            "domain": ["IPv6 DNS server reachable", "AAAA/NS exists but unreachable"],
            "range": ["#00ff00", "#ffa500"]
          },
          "legend": {
            "title": null,
            "orient": "none",
            "legendX": 7.5,
            "legendY": -33.5,
            "padding": 5,
            "strokeColor": "black",
            "fillColor": "white",
            "symbolType": "M-1,-1H-0.2V1H-1Z",
            "symbolSize": 256,
            "symbolStrokeWidth": 1,
            "rowPadding": -6,
            "labelFont": "DejaVu Sans Mono",
            "labelFontSize": 10,
            "labelColor": "black",
            "labelOffset": -4,
            "labelLimit": 400,
            "encode": {
              "symbols": {
                "update": {
                  "fill": {"scale": "color", "field": "value"},
                  "stroke": {"value": "black"},
                  "strokeWidth": {"value": 1},
                  "opacity": {"value": 1},
                  "fillOpacity": {"value": 1}
                }
              }
            }
          }
        }
      }
    },
    {
      "data": {"name": "orange"},
      "mark": {"type": "line", "strokeWidth": 3, "strokeJoin": "bevel"},
      "encoding": {
        "x": {
          "field": "d",
          "type": "temporal",
          "axis": {
            "orient": "bottom",
            "title": null,
            "domain": false,
            "ticks": false,
            "tickSize": 0,
            "grid": false,
            "labelAngle": -90,
            "labelPadding": 11,
            "labelFontSize": 8.3,
            "labelOverlap": false,
            "labelFlush": false,
            "labelExpr": "utcFormat(datum.value, '%Y-%m-%d')",
            "values": [
              {"year": 2013, "month": 7, "date": 23, "utc": true},
              {"year": 2014, "month": 10, "date": 6, "utc": true},
              {"year": 2015, "month": 11, "date": 25, "utc": true},
              {"year": 2017, "month": 10, "date": 30, "utc": true},
              {"year": 2019, "month": 9, "date": 18, "utc": true},
              {"year": 2020, "month": 12, "date": 21, "utc": true},
              {"year": 2022, "month": 4, "date": 11, "utc": true},
              {"year": 2023, "month": 6, "date": 15, "utc": true},
              {"year": 2024, "month": 8, "date": 20, "utc": true}
            ]
          }
        },
        "y": {
          "field": "v",
          "type": "quantitative",
          "axis": {
            "orient": "right",
            "title": null,
            "labels": false,
            "ticks": false,
            "grid": false,
            "domain": true
          }
        },
        "color": {"datum": "AAAA/NS exists but unreachable", "type": "nominal"}
      }
    }
  ],
  "resolve": {"axis": {"x": "independent", "y": "independent"}}
}
